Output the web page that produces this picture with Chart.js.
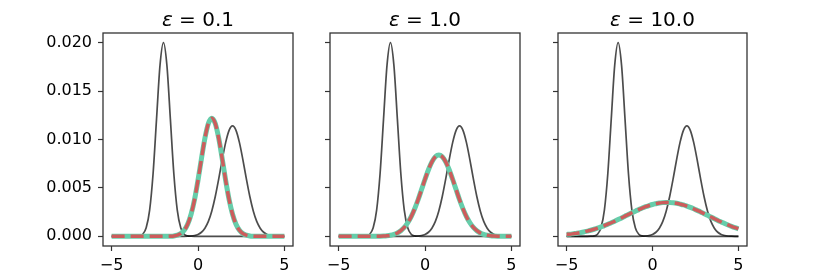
<!DOCTYPE html>
<html>
<head>
<meta charset="utf-8">
<script src="https://cdn.jsdelivr.net/npm/chart.js@4/dist/chart.umd.min.js"></script>
<style>
  body { margin: 0; background: #fff; }
  #wrap { position: relative; width: 830px; height: 277px; }
  canvas { position: absolute; top: 0; }
</style>
</head>
<body>
<div id="wrap">
  <canvas id="c0" width="300" height="277" style="left:0px"></canvas>
  <canvas id="c1" width="230" height="277" style="left:300px"></canvas>
  <canvas id="c2" width="230" height="277" style="left:530px"></canvas>
</div>
<script>
// x grid (-5 .. 5, step 0.2)
const xs = [-5.0,-4.8,-4.6,-4.4,-4.2,-4.0,-3.8,-3.6,-3.4,-3.2,-3.0,-2.8,-2.6,-2.4,-2.2,-2.0,-1.8,-1.6,-1.4,-1.2,
  -1.0,-0.8,-0.6,-0.4,-0.2,0.0,0.2,0.4,0.6,0.8,1.0,1.2,1.4,1.6,1.8,2.0,2.2,2.4,2.6,2.8,
  3.0,3.2,3.4,3.6,3.8,4.0,4.2,4.4,4.6,4.8,5.0];

// input distributions (same in every panel)
const distA = [0,0,0,0,0,0,0,0.00001,0.00004,0.00022,0.00088,0.00271,0.00649,0.01213,0.01765,0.0200,0.01765,0.01213,0.00649,0.00271,
  0.00088,0.00022,0.00004,0.00001,0,0,0,0,0,0,0,0,0,0,0,0,0,0,0,0,
  0,0,0,0,0,0,0,0,0,0,0];
const distB = [0,0,0,0,0,0,0,0,0,0,0,0,0,0,0,0,0,0,0,0,
  0,0,0.00001,0.00003,0.00008,0.00019,0.00042,0.00084,0.00154,0.00262,0.00411,0.00593,0.00790,0.00968,0.01095,0.0114,0.01095,0.00968,0.00790,0.00593,
  0.00411,0.00262,0.00154,0.00084,0.00042,0.00019,0.00008,0.00003,0.00001,0,0];

// barycenters for each epsilon
const baryEps01 = [0,0,0,0,0,0,0,0,0,0,0,0,0,0,0,0,0,0.00001,0.00004,0.00012,
  0.00028,0.00062,0.00124,0.00228,0.00380,0.00579,0.00802,0.01012,0.01165,0.0122,0.01165,0.01012,0.00802,0.00579,0.00380,0.00228,0.00124,0.00062,0.00028,0.00012,
  0.00004,0.00001,0,0,0,0,0,0,0,0,0];
const baryEps1 = [0,0,0,0,0,0,0,0,0,0,0,0,0.00001,0.00003,0.00006,0.00011,0.00020,0.00035,0.00058,0.00092,
  0.00140,0.00203,0.00284,0.00378,0.00483,0.00589,0.00688,0.00769,0.00822,0.0084,0.00822,0.00769,0.00688,0.00589,0.00483,0.00378,0.00284,0.00203,0.00140,0.00092,
  0.00058,0.00035,0.00020,0.00011,0.00006,0.00003,0.00001,0,0,0,0];
const baryEps10 = [0.00020,0.00022,0.00027,0.00032,0.00038,0.00045,0.00054,0.00063,0.00073,0.00084,0.00097,0.00110,0.00125,0.00140,0.00156,0.00173,0.00190,0.00208,0.00226,0.00243,
  0.00260,0.00276,0.00292,0.00306,0.00318,0.00329,0.00337,0.00344,0.00348,0.00350,0.00349,0.00346,0.00341,0.00333,0.00324,0.00312,0.00299,0.00284,0.00268,0.00252,
  0.00234,0.00217,0.00199,0.00182,0.00164,0.00148,0.00132,0.00117,0.00103,0.00090,0.00078];

const epsLabels = ['0.1', '1.0', '10.0'];
const barys = [baryEps01, baryEps1, baryEps10];
const xTicks = [-5, 0, 5];
const yTicks = [0, 0.005, 0.010, 0.015, 0.020];

// panel geometry: y axis width, right padding
const panels = [
  { id: 'c0', yw: 103, padR: 7, showY: true },
  { id: 'c1', yw: 30, padR: 10, showY: false },
  { id: 'c2', yw: 28, padR: 13, showY: false }
];

function pts(ys) { return xs.map((x, i) => ({ x: x, y: ys[i] })); }

const frameAndTitle = {
  id: 'frameAndTitle',
  afterDraw(chart, args, opts) {
    const ctx = chart.ctx, a = chart.chartArea;
    ctx.save();
    ctx.strokeStyle = '#333';
    ctx.lineWidth = 1.3;
    ctx.strokeRect(a.left, a.top, a.right - a.left, a.bottom - a.top);
    // title: italic epsilon + " = value"
    const fIt = 'italic 20px "DejaVu Sans"', fN = '20px "DejaVu Sans"';
    const rest = ' = ' + opts.text;
    ctx.font = fIt; const w1 = ctx.measureText('\u03b5').width;
    ctx.font = fN; const w2 = ctx.measureText(rest).width;
    let x = (a.left + a.right) / 2 - (w1 + w2) / 2;
    const y = 26;
    ctx.fillStyle = '#000';
    ctx.textBaseline = 'alphabetic';
    ctx.textAlign = 'left';
    ctx.font = fIt; ctx.fillText('\u03b5', x, y);
    ctx.font = fN; ctx.fillText(rest, x + w1, y);
    ctx.restore();
  }
};

panels.forEach((p, k) => {
  new Chart(document.getElementById(p.id), {
    type: 'line',
    data: {
      // Chart.js paints the first dataset on top, so the dashed red comes first
      datasets: [
        { data: pts(barys[k]), borderColor: '#cd5c5c', borderWidth: 3.5, borderDash: [13, 6] },
        { data: pts(barys[k]), borderColor: '#66cdaa', borderWidth: 5 },
        { data: pts(distB), borderColor: 'rgba(0,0,0,0.7)', borderWidth: 1.7 },
        { data: pts(distA), borderColor: 'rgba(0,0,0,0.7)', borderWidth: 1.7 }
      ]
    },
    options: {
      responsive: false,
      animation: false,
      devicePixelRatio: 1,
      layout: { padding: { top: 33, right: p.padR, left: 0, bottom: 0 } },
      elements: { point: { radius: 0 }, line: { cubicInterpolationMode: 'monotone', fill: false } },
      plugins: { legend: { display: false }, tooltip: { enabled: false }, frameAndTitle: { text: epsLabels[k] } },
      scales: {
        x: {
          type: 'linear', min: -5.5, max: 5.5,
          afterBuildTicks: s => { s.ticks = xTicks.map(v => ({ value: v })); },
          afterFit: s => { s.height = 31; },
          border: { display: false },
          grid: { drawOnChartArea: false, drawTicks: true, tickLength: 5, color: '#333', tickWidth: 1.2 },
          ticks: { maxRotation: 0, padding: 5, color: '#000', font: { family: 'DejaVu Sans', size: 16 },
            callback: v => (v < 0 ? '\u2212' + Math.abs(v) : String(v)) }
        },
        y: {
          min: -0.001, max: 0.021,
          afterBuildTicks: s => { s.ticks = yTicks.map(v => ({ value: v })); },
          afterFit: s => { s.width = p.yw; },
          border: { display: false },
          grid: { drawOnChartArea: false, drawTicks: true, tickLength: 5, color: '#333', tickWidth: 1.2 },
          ticks: { padding: 6, color: '#000', font: { family: 'DejaVu Sans', size: 16 },
            callback: v => (p.showY ? v.toFixed(3) : '') }
        }
      }
    },
    plugins: [frameAndTitle]
  });
});
</script>
</body>
</html>
